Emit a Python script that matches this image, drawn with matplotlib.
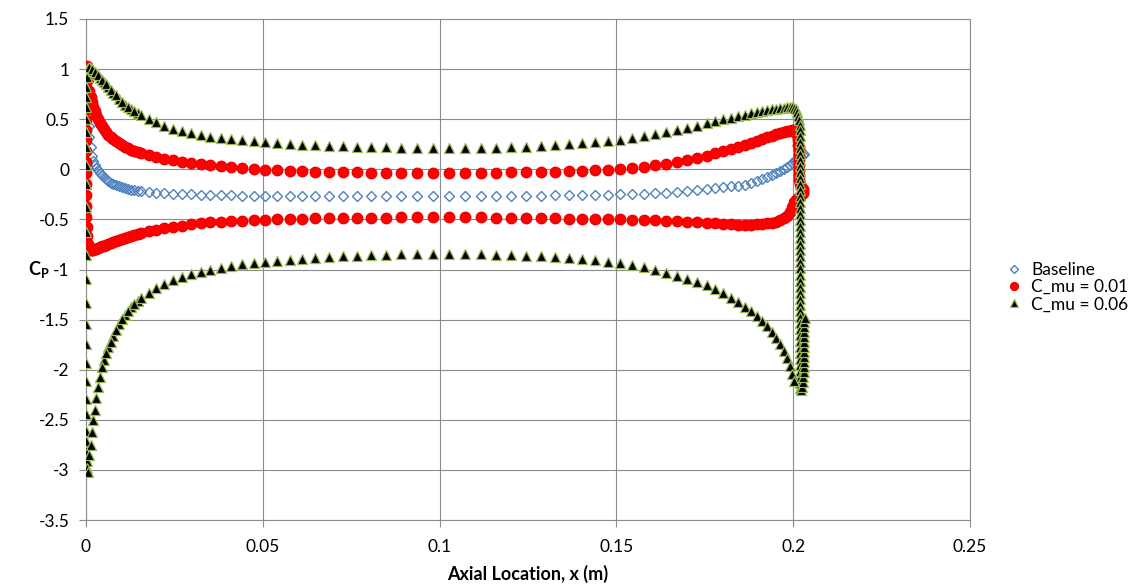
import matplotlib.pyplot as plt

# chord stations shared by the upper/lower surface points (m)
x_chord = [0.001, 0.0017, 0.0025, 0.0034, 0.0045, 0.0057, 0.007, 0.0085, 0.0101, 0.0118,
           0.0136, 0.0156, 0.0177, 0.0199, 0.0222, 0.0246, 0.0271, 0.0297, 0.0324, 0.0352,
           0.0381, 0.0411, 0.0442, 0.0474, 0.0507, 0.0541, 0.0576, 0.0612, 0.0649, 0.0687,
           0.0726, 0.0766, 0.0807, 0.0849, 0.0892, 0.0936, 0.0981, 0.1026, 0.1071, 0.1116,
           0.116, 0.1203, 0.1245, 0.1286, 0.1326, 0.1365, 0.1403, 0.144, 0.1476, 0.1511,
           0.1545, 0.1578, 0.161, 0.1641, 0.1671, 0.17, 0.1728, 0.1755, 0.178, 0.1803,
           0.1825, 0.1845, 0.1864, 0.1882, 0.1898, 0.1913, 0.1927, 0.194, 0.1952, 0.1963,
           0.1973, 0.1982, 0.199, 0.1997, 0.2003]

# extra stations near the leading edge, where the grid is denser
x_le = [0.0013, 0.0021, 0.0029, 0.0039, 0.0051, 0.0063, 0.0077, 0.0093, 0.011, 0.0127, 0.0146]

# Baseline
baseline_y = [0.32, 0.13, 0.04, -0.01, -0.06, -0.10, -0.14, -0.16, -0.18, -0.20,
              -0.21, -0.22, -0.23, -0.235, -0.24, -0.245, -0.25, -0.25, -0.255, -0.26,
              -0.26, -0.26, -0.265, -0.265, -0.265, -0.27, -0.27, -0.27, -0.27, -0.27,
              -0.27, -0.27, -0.27, -0.27, -0.27, -0.27, -0.27, -0.27, -0.27, -0.27,
              -0.27, -0.27, -0.265, -0.265, -0.26, -0.26, -0.26, -0.255, -0.255, -0.25,
              -0.25, -0.245, -0.24, -0.235, -0.23, -0.22, -0.21, -0.20, -0.19, -0.18,
              -0.17, -0.165, -0.155, -0.14, -0.12, -0.10, -0.08, -0.055, -0.035, -0.015,
              0.005, 0.025, 0.045, 0.065, 0.08]
baseline_le_y = [0.22, 0.08, 0.015, -0.035, -0.08, -0.12, -0.15, -0.17, -0.19, -0.205, -0.215]
baseline_nose_x = [0.0, 0.0001, 0.0002, 0.0004, 0.0006, 0.0008]
baseline_nose_y = [1.0, 0.93, 0.82, 0.68, 0.55, 0.43]
baseline_te_x = [0.2009, 0.2015, 0.2021, 0.2027, 0.2032]
baseline_te_y = [0.095, 0.11, 0.125, 0.14, 0.155]

# C_mu = 0.01
red_upper_y = [0.78, 0.67, 0.58, 0.50, 0.43, 0.37, 0.32, 0.28, 0.24, 0.21,
               0.18, 0.16, 0.14, 0.12, 0.10, 0.09, 0.07, 0.06, 0.05, 0.04,
               0.03, 0.02, 0.01, 0.00, -0.005, -0.01, -0.015, -0.02, -0.025, -0.03,
               -0.03, -0.03, -0.035, -0.035, -0.035, -0.035, -0.035, -0.035, -0.035, -0.035,
               -0.035, -0.03, -0.03, -0.03, -0.025, -0.02, -0.015, -0.01, -0.005, 0.00,
               0.01, 0.02, 0.04, 0.05, 0.07, 0.09, 0.11, 0.13, 0.16, 0.18,
               0.20, 0.22, 0.24, 0.26, 0.28, 0.30, 0.32, 0.33, 0.35, 0.36,
               0.37, 0.38, 0.385, 0.39, 0.39]
red_lower_y = [-0.81, -0.81, -0.80, -0.79, -0.77, -0.76, -0.74, -0.72, -0.70, -0.68,
               -0.66, -0.64, -0.62, -0.61, -0.59, -0.58, -0.57, -0.55, -0.54, -0.53,
               -0.53, -0.52, -0.52, -0.51, -0.51, -0.50, -0.50, -0.50, -0.49, -0.49,
               -0.49, -0.49, -0.49, -0.49, -0.48, -0.48, -0.48, -0.48, -0.48, -0.48,
               -0.49, -0.49, -0.49, -0.49, -0.49, -0.50, -0.50, -0.50, -0.50, -0.50,
               -0.51, -0.51, -0.51, -0.52, -0.52, -0.53, -0.53, -0.54, -0.54, -0.55,
               -0.55, -0.56, -0.56, -0.56, -0.55, -0.55, -0.54, -0.54, -0.53, -0.51,
               -0.49, -0.47, -0.43, -0.38, -0.33]
red_upper_le_y = [0.72, 0.62, 0.54, 0.46, 0.40, 0.345, 0.30, 0.26, 0.225, 0.195, 0.17]
red_lower_le_y = [-0.81, -0.805, -0.795, -0.78, -0.765, -0.75, -0.73, -0.71, -0.69, -0.67, -0.65]
red_nose_x = [0.0004, 0.0006, 0.0002, 0.0001, 0.0, 0.0, 0.0, 0.0, 0.0, 0.0,
              0.0, 0.0, 0.0, 0.0, 0.0, 0.0, 0.0001, 0.0002, 0.0004, 0.0007]
red_nose_y = [1.03, 0.90, 0.95, 0.86, 0.77, 0.68, 0.59, 0.49, 0.39, 0.29,
              0.18, 0.07, -0.04, -0.15, -0.26, -0.37, -0.48, -0.58, -0.67, -0.75]
red_te_x = [0.2008, 0.2012, 0.2014, 0.2015, 0.2016, 0.2016, 0.2016, 0.2016, 0.2016, 0.2016,
            0.2017, 0.2019, 0.2023, 0.2027, 0.2029, 0.2027, 0.2022, 0.2016, 0.2011, 0.2007]
red_te_y = [0.38, 0.34, 0.29, 0.24, 0.19, 0.14, 0.09, 0.04, -0.01, -0.06,
            -0.11, -0.15, -0.18, -0.20, -0.22, -0.24, -0.26, -0.28, -0.30, -0.31]

# C_mu = 0.06
green_upper_y = [1.02, 1.00, 0.97, 0.94, 0.89, 0.85, 0.79, 0.74, 0.67, 0.62,
                 0.58, 0.54, 0.50, 0.47, 0.43, 0.40, 0.38, 0.36, 0.34, 0.32,
                 0.31, 0.30, 0.29, 0.28, 0.27, 0.26, 0.25, 0.245, 0.24, 0.235,
                 0.23, 0.225, 0.22, 0.22, 0.215, 0.215, 0.21, 0.21, 0.21, 0.215,
                 0.215, 0.22, 0.225, 0.23, 0.24, 0.25, 0.26, 0.27, 0.28, 0.29,
                 0.31, 0.33, 0.35, 0.37, 0.39, 0.41, 0.43, 0.46, 0.48, 0.50,
                 0.51, 0.53, 0.54, 0.56, 0.57, 0.58, 0.59, 0.60, 0.605, 0.61,
                 0.615, 0.62, 0.62, 0.62, 0.61]
green_lower_y = [-2.85, -2.62, -2.40, -2.17, -1.97, -1.83, -1.72, -1.60, -1.49, -1.41,
                 -1.34, -1.28, -1.23, -1.18, -1.14, -1.10, -1.07, -1.04, -1.02, -1.00,
                 -0.99, -0.97, -0.95, -0.94, -0.93, -0.92, -0.91, -0.90, -0.89, -0.88,
                 -0.87, -0.87, -0.86, -0.86, -0.85, -0.85, -0.85, -0.85, -0.85, -0.85,
                 -0.86, -0.86, -0.87, -0.87, -0.88, -0.89, -0.90, -0.91, -0.93, -0.94,
                 -0.96, -0.98, -1.00, -1.03, -1.06, -1.09, -1.12, -1.15, -1.19, -1.23,
                 -1.28, -1.32, -1.37, -1.41, -1.46, -1.51, -1.56, -1.62, -1.68, -1.74,
                 -1.81, -1.88, -1.96, -2.04, -2.11]
green_upper_le_y = [1.01, 0.985, 0.955, 0.915, 0.87, 0.82, 0.765, 0.705, 0.645, 0.60, 0.56]
green_lower_le_y = [-2.75, -2.5, -2.28, -2.07, -1.9, -1.77, -1.66, -1.54, -1.45, -1.375, -1.31]
green_nose_x = [0.0004, 0.0002, 0.0001, 0.0, 0.0, 0.0, 0.0, 0.0, 0.0, 0.0,
                0.0, 0.0, 0.0, 0.0, 0.0, 0.0, 0.0, 0.0, 0.0, 0.0,
                0.0, 0.0, 0.0001, 0.0001, 0.0002, 0.0003, 0.0006]
green_nose_y = [1.0, 0.92, 0.82, 0.72, 0.62, 0.50, 0.37, 0.22, 0.04, -0.15,
                -0.38, -0.63, -0.86, -1.09, -1.33, -1.54, -1.74, -1.93, -2.11, -2.29,
                -2.44, -2.61, -2.71, -2.81, -2.91, -2.98, -3.02]
green_te_x = [0.2008, 0.2012, 0.2015, 0.2017, 0.2018,
              0.2019, 0.2019, 0.2019, 0.2019, 0.2019, 0.2019, 0.2019, 0.2019, 0.2019, 0.2019,
              0.2019, 0.2019, 0.2019, 0.2019, 0.2019, 0.2019, 0.2019, 0.2019, 0.2019, 0.2019,
              0.2019, 0.2019, 0.2019, 0.2019, 0.2019, 0.2019, 0.2019, 0.2019, 0.2019, 0.2019,
              0.2019, 0.2019, 0.2019, 0.2019, 0.2019, 0.2019, 0.2019, 0.2019, 0.2019, 0.2019,
              0.2019, 0.2019, 0.2019,
              0.2019, 0.2022,
              0.2026, 0.2028, 0.2029, 0.203, 0.203, 0.2031, 0.2031, 0.2031, 0.2031, 0.2031,
              0.2031, 0.2031, 0.2031, 0.2032, 0.2033]
green_te_y = [0.60, 0.57, 0.53, 0.49, 0.44,
              0.39, 0.33, 0.27, 0.21, 0.15, 0.09, 0.03, -0.03, -0.09, -0.15,
              -0.21, -0.27, -0.33, -0.39, -0.45, -0.51, -0.57, -0.63, -0.69, -0.75,
              -0.81, -0.87, -0.93, -0.99, -1.05, -1.11, -1.17, -1.23, -1.29, -1.35,
              -1.41, -1.47, -1.53, -1.59, -1.65, -1.71, -1.77, -1.83, -1.89, -1.95,
              -2.01, -2.07, -2.13,
              -2.18, -2.20,
              -2.17, -2.12, -2.07, -2.02, -1.97, -1.92, -1.87, -1.82, -1.77, -1.72,
              -1.67, -1.62, -1.57, -1.52, -1.48]

x_ticks = [0, 0.05, 0.1, 0.15, 0.2, 0.25]
x_tick_labels = ['0', '0.05', '0.1', '0.15', '0.2', '0.25']
y_ticks = [1.5, 1, 0.5, 0, -0.5, -1, -1.5, -2, -2.5, -3, -3.5]
y_tick_labels = ['1.5', '1', '0.5', '0', '-0.5', '-1', '-1.5', '-2', '-2.5', '-3', '-3.5']

plt.rcParams['font.family'] = ['Lato', 'DejaVu Sans']
plt.rcParams['mathtext.fontset'] = 'custom'
plt.rcParams['mathtext.bf'] = 'Lato:bold'
plt.rcParams['mathtext.rm'] = 'Lato'

grey = '#8c8c8c'
blue = '#4f81bd'
olive = '#9bbb59'

fig, ax = plt.subplots(figsize=(11.43, 5.86), dpi=100)
fig.subplots_adjust(left=0.0752, right=0.8486, bottom=0.1126, top=0.9676)

# baseline (symmetric, one surface shown)
bx = baseline_nose_x + x_le + x_chord + baseline_te_x
by = baseline_nose_y + baseline_le_y + baseline_y + baseline_te_y
ax.plot(bx, by, linestyle='none', marker='D', ms=5, mfc='none', mec=blue, mew=1,
        label='Baseline', zorder=3)

rx = red_nose_x + x_le + x_chord + red_te_x + x_le + x_chord
ry = red_nose_y + red_upper_le_y + red_upper_y + red_te_y + red_lower_le_y + red_lower_y
ax.plot(rx, ry, linestyle='none', marker='o', ms=7.5, color='#ff0000', mec='#f00000',
        label='C_mu = 0.01', zorder=4)

gx = green_nose_x + x_le + x_chord + green_te_x + x_le + x_chord
gy = green_nose_y + green_upper_le_y + green_upper_y + green_te_y + green_lower_le_y + green_lower_y
ax.plot(gx, gy, linestyle='none', marker='^', ms=6.8, mfc='black', mec=olive, mew=0.9,
        label='C_mu = 0.06', zorder=5)

ax.set_xlim(0, 0.25)
ax.set_ylim(-3.5, 1.5)
ax.set_xticks(x_ticks)
ax.set_xticklabels(x_tick_labels)
ax.set_yticks(y_ticks)
ax.set_yticklabels(y_tick_labels)
ax.tick_params(axis='both', labelsize=12.5, color=grey, length=5, width=0.8)
ax.tick_params(axis='y', pad=7)
ax.tick_params(axis='x', pad=9)
ax.grid(True, color=grey, linewidth=0.8)
ax.set_axisbelow(True)
for s in ax.spines.values():
    s.set_color(grey)
    s.set_linewidth(0.8)

ax.set_xlabel('Axial Location, x (m)', fontsize=13, fontweight='bold')
ax.xaxis.set_label_coords(0.5, -0.09)
ax.set_ylabel(r'$\mathbf{C_P}$', fontsize=13, rotation=0, va='center')
ax.yaxis.set_label_coords(-0.053, 0.5)

ax.legend(loc='center left', bbox_to_anchor=(1.04, 0.465), frameon=False, fontsize=12.5,
          handlelength=1.0, handletextpad=0.5, labelspacing=0.08, borderpad=0,
          borderaxespad=0, markerscale=0.75)

fig.savefig('out.png', dpi=100)
